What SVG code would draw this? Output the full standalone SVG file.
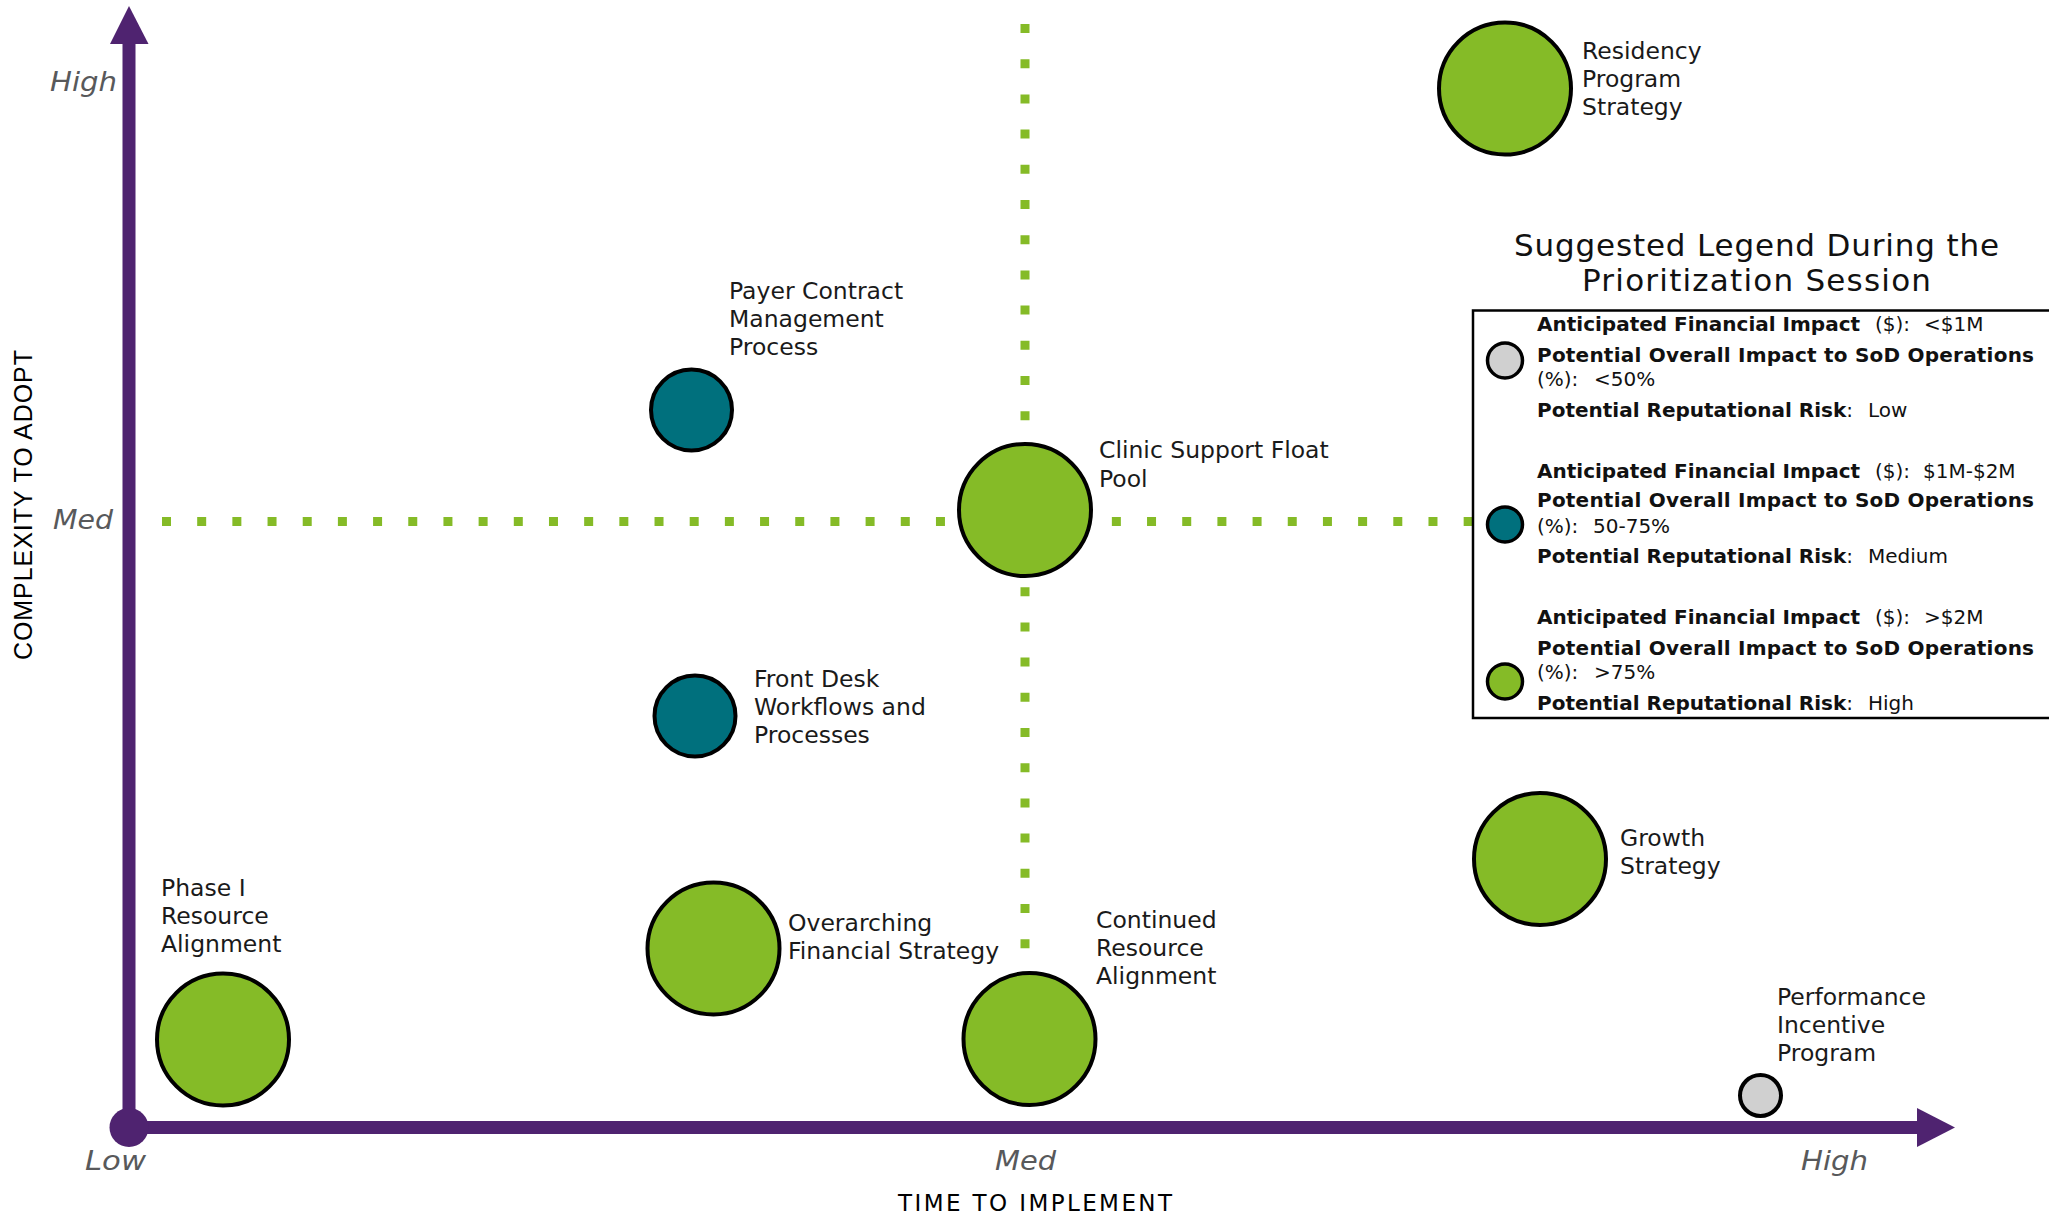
<svg xmlns="http://www.w3.org/2000/svg" width="2049" height="1215" viewBox="0 0 2049 1215">
<style>
.bub{stroke:#000;stroke-width:4}
.g{fill:#85BB27}
.t{fill:#00707D}
.y{fill:#D0D0D0}
.lbl{font-family:"DejaVu Sans",Verdana,sans-serif;font-size:23.5px;fill:#1a1a1a}
.ax{font-family:"DejaVu Sans",Verdana,sans-serif;font-size:26px;font-style:italic;fill:#58595B}
.lg{font-family:"DejaVu Sans",Verdana,sans-serif;font-size:20px;fill:#111}
.b{font-weight:bold}
.dots{stroke:#85BB27;stroke-width:9;fill:none}
</style>
<rect width="2049" height="1215" fill="#fff"/>
<g id="guides">
<line class="dots" x1="1025" y1="24" x2="1025" y2="949" stroke-dasharray="9 26.2"/>
<line class="dots" x1="162" y1="521.5" x2="1473" y2="521.5" stroke-dasharray="9 26.18"/>
</g>
<g id="axes" fill="#4F2370">
<rect x="122.5" y="43" width="13" height="1085"/>
<polygon points="110,44 129,6 148.5,44"/>
<rect x="129" y="1121" width="1789" height="13"/>
<polygon points="1917,1108 1955,1127.5 1917,1147"/>
<circle cx="129" cy="1127.5" r="19.5"/>
</g>
<g id="axis-labels">
<text class="ax" x="50" y="91" textLength="67" lengthAdjust="spacingAndGlyphs">High</text>
<text class="ax" x="53" y="529" textLength="60" lengthAdjust="spacingAndGlyphs">Med</text>
<text class="ax" x="85" y="1170" textLength="61" lengthAdjust="spacingAndGlyphs">Low</text>
<text class="ax" x="995" y="1170" textLength="61" lengthAdjust="spacingAndGlyphs">Med</text>
<text class="ax" x="1801" y="1170" textLength="67" lengthAdjust="spacingAndGlyphs">High</text>
<text transform="translate(32,660) rotate(-90)" font-family="Liberation Sans, Arial, sans-serif" font-size="25" fill="#000" textLength="310">COMPLEXITY TO ADOPT</text>
<text x="898" y="1211" font-family="DejaVu Sans, Verdana, sans-serif" font-size="23" fill="#000" textLength="274">TIME TO IMPLEMENT</text>
</g>
<g id="node-residency">
<circle class="bub g" cx="1505" cy="88.5" r="66"/>
<text class="lbl"><tspan x="1582" y="59">Residency</tspan><tspan x="1582" y="87">Program</tspan><tspan x="1582" y="115">Strategy</tspan></text>
</g>
<g id="node-payer">
<circle class="bub t" cx="691.5" cy="410" r="40.5"/>
<text class="lbl"><tspan x="729" y="299">Payer Contract</tspan><tspan x="729" y="327">Management</tspan><tspan x="729" y="354.5">Process</tspan></text>
</g>
<g id="node-clinic">
<circle class="bub g" cx="1025" cy="510" r="66"/>
<text class="lbl"><tspan x="1099" y="458">Clinic Support Float</tspan><tspan x="1099" y="486.5">Pool</tspan></text>
</g>
<g id="node-frontdesk">
<circle class="bub t" cx="695" cy="716" r="40.5"/>
<text class="lbl"><tspan x="754" y="687">Front Desk</tspan><tspan x="754" y="715">Workflows and</tspan><tspan x="754" y="743">Processes</tspan></text>
</g>
<g id="node-phase1">
<circle class="bub g" cx="223" cy="1039.5" r="66"/>
<text class="lbl"><tspan x="161" y="896">Phase I</tspan><tspan x="161" y="924">Resource</tspan><tspan x="161" y="952">Alignment</tspan></text>
</g>
<g id="node-overarching">
<circle class="bub g" cx="713.5" cy="948.5" r="66"/>
<text class="lbl"><tspan x="788" y="931">Overarching</tspan><tspan x="788" y="959">Financial Strategy</tspan></text>
</g>
<g id="node-continued">
<circle class="bub g" cx="1029.5" cy="1039" r="66"/>
<text class="lbl"><tspan x="1096" y="927.5">Continued</tspan><tspan x="1096" y="955.5">Resource</tspan><tspan x="1096" y="983.5">Alignment</tspan></text>
</g>
<g id="node-growth">
<circle class="bub g" cx="1540" cy="859" r="66"/>
<text class="lbl"><tspan x="1620" y="846">Growth</tspan><tspan x="1620" y="874">Strategy</tspan></text>
</g>
<g id="node-performance">
<circle class="bub y" cx="1760.5" cy="1095.5" r="20.5"/>
<text class="lbl"><tspan x="1777" y="1005">Performance</tspan><tspan x="1777" y="1033">Incentive</tspan><tspan x="1777" y="1061">Program</tspan></text>
</g>
<g id="legend">
<text font-family="DejaVu Sans, Verdana, sans-serif" font-size="31" fill="#111" x="1514" y="256" textLength="485">Suggested Legend During the</text>
<text font-family="DejaVu Sans, Verdana, sans-serif" font-size="31" fill="#111" x="1582" y="291" textLength="349">Prioritization Session</text>
<rect x="1473" y="310.5" width="620" height="407.5" fill="none" stroke="#000" stroke-width="2.5"/>
<circle cx="1505" cy="360.5" r="17.5" fill="#D0D0D0" stroke="#000" stroke-width="3.5"/>
<circle cx="1505" cy="524.5" r="17.5" fill="#00707D" stroke="#000" stroke-width="3.5"/>
<circle cx="1505" cy="681.5" r="17.5" fill="#85BB27" stroke="#000" stroke-width="3.5"/>
<text class="lg" y="331"><tspan class="b" x="1537">Anticipated Financial Impact</tspan><tspan x="1875">($):</tspan><tspan x="1924">&lt;$1M</tspan></text>
<text class="lg b" x="1537" y="361.7" textLength="497">Potential Overall Impact to SoD Operations</text>
<text class="lg" y="385.7"><tspan x="1537">(%):</tspan><tspan x="1594">&lt;50%</tspan></text>
<text class="lg" y="417.3"><tspan class="b" x="1537">Potential Reputational Risk</tspan><tspan>:</tspan><tspan x="1868">Low</tspan></text>
<text class="lg" y="477.7"><tspan class="b" x="1537">Anticipated Financial Impact</tspan><tspan x="1875">($):</tspan><tspan x="1923">$1M-$2M</tspan></text>
<text class="lg b" x="1537" y="507.3" textLength="497">Potential Overall Impact to SoD Operations</text>
<text class="lg" y="533.3"><tspan x="1537">(%):</tspan><tspan x="1593">50-75%</tspan></text>
<text class="lg" y="563.3"><tspan class="b" x="1537">Potential Reputational Risk</tspan><tspan>:</tspan><tspan x="1868">Medium</tspan></text>
<text class="lg" y="624"><tspan class="b" x="1537">Anticipated Financial Impact</tspan><tspan x="1875">($):</tspan><tspan x="1924">&gt;$2M</tspan></text>
<text class="lg b" x="1537" y="655" textLength="497">Potential Overall Impact to SoD Operations</text>
<text class="lg" y="679.3"><tspan x="1537">(%):</tspan><tspan x="1594">&gt;75%</tspan></text>
<text class="lg" y="710"><tspan class="b" x="1537">Potential Reputational Risk</tspan><tspan>:</tspan><tspan x="1868">High</tspan></text>
</g>
</svg>
